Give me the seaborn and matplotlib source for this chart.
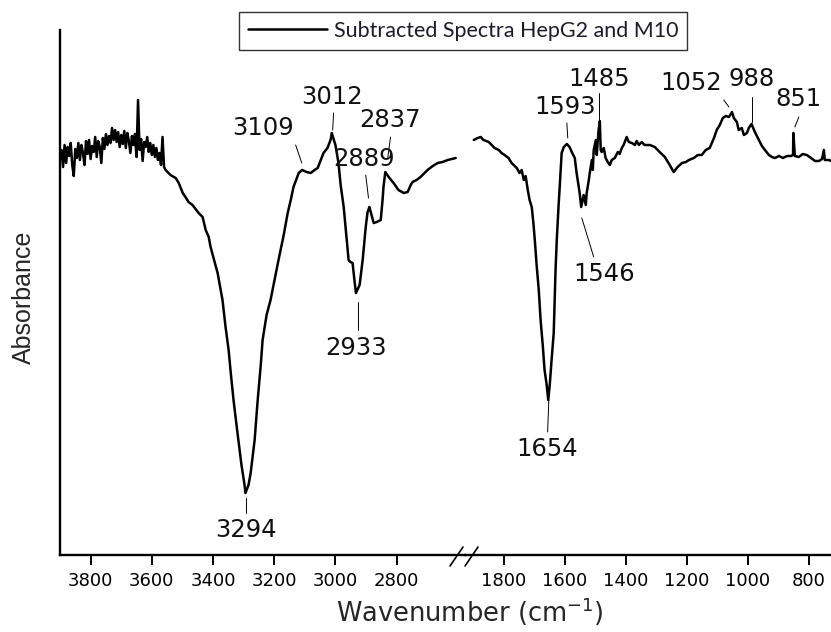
import numpy as np
import pandas as pd
import matplotlib
matplotlib.use("Agg")
import matplotlib.pyplot as plt
from matplotlib.lines import Line2D
import seaborn as sns

# %% data: high wavenumber window (cm-1, absorbance a.u.)
wn_high = [3900, 3895, 3890, 3885, 3880, 3875, 3870, 3865, 3860, 3855, 3850, 3845, 3840, 3835,
           3830, 3825, 3820, 3815, 3810, 3805, 3800, 3795, 3790, 3785, 3780, 3775, 3770, 3765,
           3760, 3755, 3750, 3745, 3740, 3735, 3730, 3725, 3720, 3715, 3710, 3705, 3700, 3695,
           3690, 3685, 3680, 3675, 3670, 3665, 3660, 3655, 3650, 3645, 3640, 3635, 3630, 3625,
           3620, 3615, 3610, 3605, 3600, 3595, 3590, 3585, 3580, 3575, 3570, 3565, 3560,
           3555, 3539, 3522, 3512, 3499, 3490, 3480, 3467, 3447, 3434, 3424, 3414, 3408,
           3385, 3369, 3359, 3349, 3342, 3333, 3320, 3307, 3297, 3294, 3284, 3277, 3264,
           3254, 3244, 3238, 3225, 3212, 3199, 3186, 3169, 3156, 3146, 3137, 3120, 3109,
           3094, 3081, 3068, 3058, 3048, 3039, 3026, 3016, 3012, 3000, 2990, 2983, 2973,
           2963, 2957, 2951, 2944, 2938, 2933, 2921, 2911, 2901, 2895, 2889, 2882, 2875,
           2865, 2852, 2846, 2843, 2837, 2826, 2810, 2794, 2777, 2764, 2754, 2748, 2735,
           2722, 2699, 2682, 2666, 2650, 2633, 2620, 2607]
abs_high = [3.95, 4.05, 3.88, 4.10, 3.92, 4.08, 3.99, 4.12, 3.90, 3.79, 4.06, 3.97, 4.12, 3.95,
            4.10, 4.02, 3.90, 4.14, 4.01, 4.15, 3.96, 4.09, 4.03, 4.18, 3.98, 4.14, 4.08, 3.92,
            4.17, 4.06, 4.21, 4.10, 4.19, 4.12, 4.27, 4.15, 4.25, 4.13, 4.23, 4.08, 4.20, 4.11,
            4.24, 4.07, 4.22, 4.14, 4.02, 4.19, 4.10, 4.21, 3.98, 4.55, 4.05, 4.16, 3.94, 4.13,
            4.08, 4.18, 4.03, 4.12, 4.00, 4.10, 3.98, 4.07, 3.95, 4.02, 3.90, 4.18, 3.88,
            3.85, 3.80, 3.77, 3.72, 3.62, 3.58, 3.53, 3.50, 3.42, 3.38, 3.25, 3.18, 3.08,
            2.82, 2.55, 2.28, 2.05, 1.82, 1.55, 1.22, 0.90, 0.70, 0.62, 0.70, 0.82, 1.15,
            1.55, 1.90, 2.15, 2.40, 2.55, 2.75, 2.95, 3.20, 3.42, 3.55, 3.68, 3.82, 3.85,
            3.83, 3.82, 3.85, 3.87, 3.95, 4.02, 4.07, 4.15, 4.22, 4.10, 3.92, 3.70, 3.48,
            3.15, 2.95, 2.93, 2.92, 2.75, 2.62, 2.70, 2.95, 3.28, 3.43, 3.48, 3.40, 3.32,
            3.33, 3.35, 3.55, 3.68, 3.83, 3.78, 3.72, 3.65, 3.62, 3.63, 3.70, 3.73, 3.75,
            3.78, 3.85, 3.89, 3.92, 3.93, 3.95, 3.96, 3.97]

# %% data: fingerprint window
wn_low = [1898, 1885, 1875, 1866, 1849, 1839, 1830, 1816, 1807, 1797, 1784, 1774, 1767, 1757,
          1748, 1741, 1734, 1728, 1721, 1715, 1708, 1702, 1698, 1692, 1685, 1679, 1672, 1666,
          1659, 1654, 1649, 1643, 1636, 1633, 1630, 1626, 1620, 1616, 1610, 1603, 1593, 1584,
          1577, 1567, 1561, 1554, 1551, 1546, 1538, 1531, 1528, 1521, 1518, 1511, 1508, 1505,
          1498, 1495, 1489, 1485, 1482, 1479, 1472, 1466, 1459, 1452, 1446, 1436, 1426, 1420,
          1413, 1407, 1397, 1390, 1380, 1370, 1364, 1357, 1348, 1338, 1321, 1305, 1289, 1272,
          1256, 1243, 1230, 1216, 1203, 1193, 1177, 1164, 1151, 1138, 1125, 1111, 1102, 1092,
          1082, 1072, 1062, 1052, 1046, 1036, 1030, 1020, 1013, 1003, 997, 988, 977, 964,
          954, 944, 931, 921, 911, 898, 885, 872, 859, 852, 851, 846, 833, 820, 807, 793,
          780, 767, 757, 751, 748, 734, 721]
abs_low = [4.15, 4.17, 4.18, 4.15, 4.13, 4.10, 4.07, 4.05, 4.02, 4.00, 3.97, 3.92, 3.90, 3.87,
           3.82, 3.85, 3.75, 3.79, 3.65, 3.55, 3.48, 3.30, 3.15, 2.90, 2.65, 2.35, 2.10, 1.85,
           1.70, 1.55, 1.70, 1.95, 2.22, 2.55, 2.85, 3.15, 3.50, 3.70, 4.02, 4.08, 4.11, 4.08,
           4.03, 3.97, 3.82, 3.68, 3.62, 3.48, 3.60, 3.50, 3.62, 3.75, 3.82, 3.95, 3.85, 4.05,
           4.15, 4.00, 4.25, 4.34, 4.05, 4.03, 4.07, 3.97, 3.93, 3.90, 3.95, 3.97, 4.03, 4.01,
           4.07, 4.10, 4.18, 4.13, 4.12, 4.10, 4.14, 4.10, 4.13, 4.10, 4.10, 4.08, 4.03, 3.98,
           3.90, 3.83, 3.88, 3.92, 3.93, 3.95, 3.97, 4.00, 4.00, 4.05, 4.07, 4.17, 4.25, 4.30,
           4.37, 4.39, 4.38, 4.43, 4.37, 4.33, 4.25, 4.27, 4.20, 4.22, 4.27, 4.31, 4.23, 4.15,
           4.09, 4.05, 4.00, 3.98, 3.97, 3.99, 3.97, 3.99, 3.99, 4.00, 4.22, 3.99, 3.98, 4.01,
           4.00, 3.97, 3.94, 3.94, 3.96, 4.05, 3.95, 3.95, 3.93]

# peak labels: text (wn, A) and leader line (wn0, A0) -> (wn1, A1)
peaks_high = ["3294", "3109", "3012", "2837", "2889", "2933"]
text_high = [(3293, 0.25), (3238, 4.27), (3012, 4.58), (2823, 4.35), (2905, 3.96), (2931, 2.07)]
lead_high = [((3293, 0.57), (3293, 0.42)), ((3130, 4.10), (3110, 3.92)),
             ((3006, 4.42), (3009, 4.25)), ((2820, 4.18), (2829, 3.97)),
             ((2901, 3.80), (2892, 3.57)), ((2927, 2.53), (2927, 2.25))]
peaks_low = ["1654", "1546", "1593", "1485", "1052", "988", "851"]
text_low = [(1659, 1.06), (1472, 2.81), (1600, 4.48), (1489, 4.76), (1187, 4.72), (987, 4.76), (833, 4.56)]
lead_low = [((1652, 1.55), (1656, 1.23)), ((1544, 3.37), (1505, 2.98)),
            ((1593, 4.32), (1590, 4.17)), ((1489, 4.62), (1489, 4.23)),
            ((1079, 4.55), (1062, 4.48)), ((987, 4.58), (987, 4.33)),
            ((833, 4.38), (846, 4.28))]

df_high = pd.DataFrame({"wn": wn_high, "A": abs_high})
df_low = pd.DataFrame({"wn": wn_low, "A": abs_low})

#%%
sns.set_style("white")
plt.rcParams["font.family"] = ["DejaVu Sans"]

W, H = 831, 632
fig = plt.figure(figsize=(W / 100, H / 100), dpi=100)
y0, y1 = 555, 30
ax1 = fig.add_axes([60 / W, (H - y0) / H, (465.5 - 60) / W, (y0 - y1) / H])
ax2 = fig.add_axes([465.5 / W, (H - y0) / H, (831.5 - 465.5) / W, (y0 - y1) / H], sharey=ax1)

sns.lineplot(data=df_high, x="wn", y="A", ax=ax1, color="black", linewidth=1.8,
             estimator=None, sort=False, label="Subtracted Spectra HepG2 and M10", legend=False)
sns.lineplot(data=df_low, x="wn", y="A", ax=ax2, color="black", linewidth=1.8,
             estimator=None, sort=False, legend=False)

ax1.set_xlim(3900, 2575)
ax2.set_xlim(1925, 726)
ax1.set_ylim(0, 5.25)

for ax, ticks in [(ax1, [3800, 3600, 3400, 3200, 3000, 2800]),
                  (ax2, [1800, 1600, 1400, 1200, 1000, 800])]:
    ax.set_xticks(ticks)
    ax.set_yticks([])
    ax.set_xlabel("")
    ax.set_ylabel("")
    ax.tick_params(axis="x", direction="out", length=7, width=1.4, pad=5,
                   labelsize=13, colors="black", bottom=True)
    ax.spines["top"].set_visible(False)
    ax.spines["right"].set_visible(False)
    ax.patch.set_alpha(0)
    for s in ["bottom", "left"]:
        ax.spines[s].set_linewidth(1.7)
        ax.spines[s].set_color("black")
ax2.spines["left"].set_visible(False)

# peak annotations
for ax, names, txt, lead in [(ax1, peaks_high, text_high, lead_high),
                             (ax2, peaks_low, text_low, lead_low)]:
    for name, (tx, ty), ((ax0, ay0), (ax1_, ay1)) in zip(names, txt, lead):
        ax.plot([ax0, ax1_], [ay0, ay1], color="black", linewidth=0.7)
        ax.text(tx, ty, name, fontsize=17.5, ha="center", va="center", color="#111111")

# axis break marks
for xa, xb in [(450, 463), (465, 478)]:
    fig.add_artist(Line2D([xa / W, xb / W], [1 - 566 / H, 1 - 547 / H],
                          color="black", linewidth=1.2))

fig.text(470 / W, 1 - 612 / H, "Wavenumber (cm$^{-1}$)", fontsize=18.5,
         ha="center", va="center")
fig.text(24 / W, 1 - 297 / H, "Absorbance", fontsize=18, rotation=90,
         ha="center", va="center", family=["Liberation Sans", "DejaVu Sans"])

handles, labels = ax1.get_legend_handles_labels()
leg = fig.legend(handles, labels, loc="center", bbox_to_anchor=(463 / W, 1 - 31 / H),
                 frameon=True, fancybox=False, edgecolor="#333333", framealpha=1,
                 handlelength=3.7, handletextpad=0.3, borderpad=0.4,
                 prop={"family": ["Lato", "DejaVu Sans"], "size": 15.5})
leg.get_frame().set_linewidth(1.0)
for t in leg.get_texts():
    t.set_color("#1c1c2a")

fig.savefig("out.png", dpi=100)
